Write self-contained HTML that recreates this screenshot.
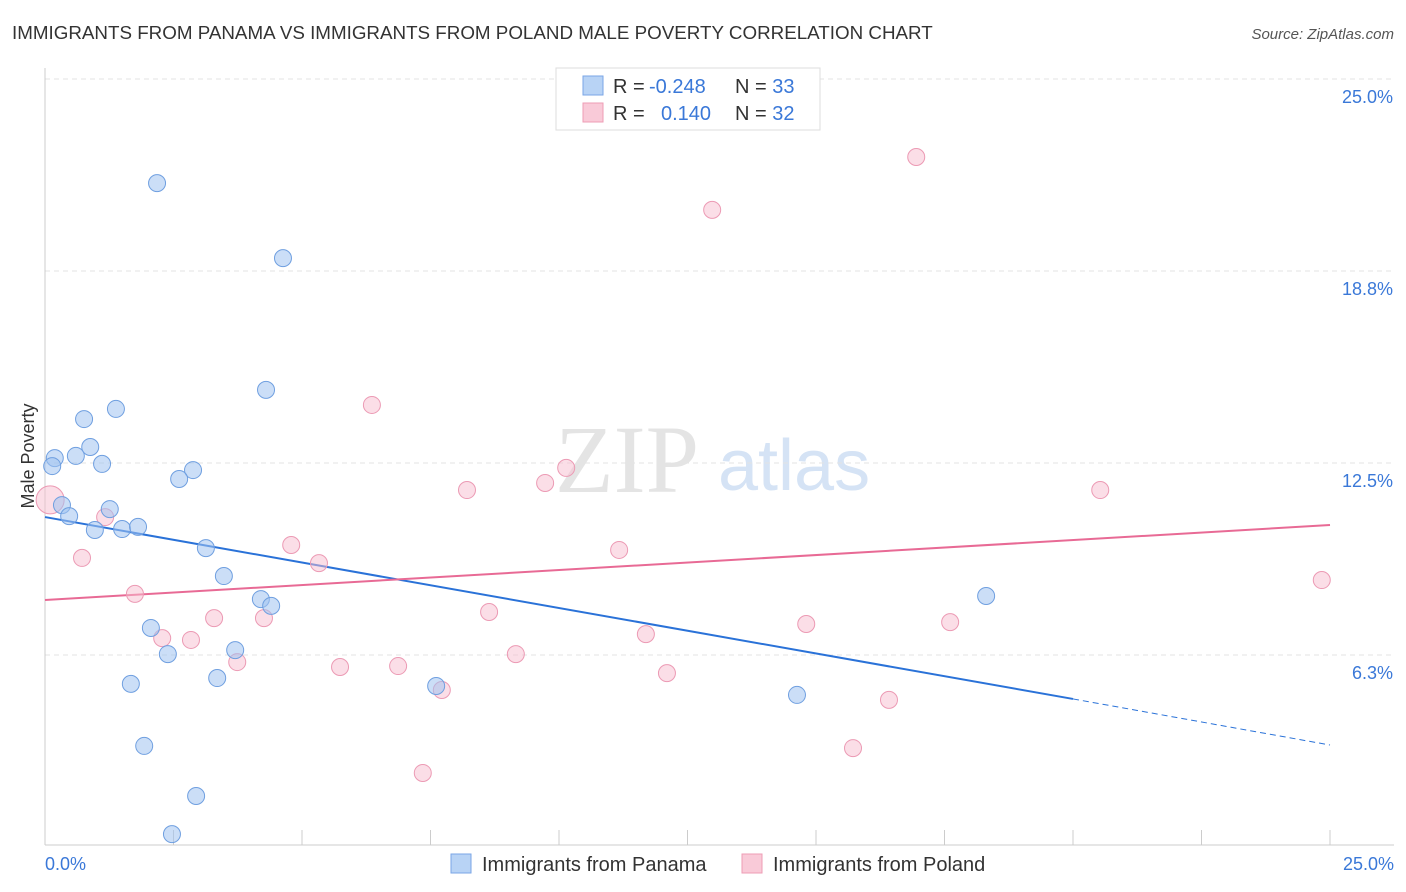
<!DOCTYPE html>
<html><head><meta charset="utf-8"><style>
body{margin:0;background:#fff;font-family:"Liberation Sans",sans-serif;}
svg{display:block}
</style></head><body>
<svg id="chart" width="1406" height="892" xmlns="http://www.w3.org/2000/svg">
<text x="12" y="39" font-size="18.8" fill="#333">IMMIGRANTS FROM PANAMA VS IMMIGRANTS FROM POLAND MALE POVERTY CORRELATION CHART</text>
<text x="1394" y="39" font-size="15" fill="#555" font-style="italic" text-anchor="end">Source: ZipAtlas.com</text>
<g>
<text x="555" y="492" font-size="96" fill="#e4e4e4" font-family="Liberation Serif,serif">ZIP</text>
<text x="718" y="490" font-size="72" fill="#d5e3f5">atlas</text>
</g>
<text transform="translate(34,456) rotate(-90)" font-size="18" fill="#333" text-anchor="middle">Male Poverty</text>
<g id="grid"></g>
<line x1="45" y1="68" x2="45" y2="845" stroke="#ccc"/>
<line x1="45" y1="845" x2="1394" y2="845" stroke="#ccc"/>
<g id="xticks"></g>
<g id="lines"></g>
<g id="pts"></g>
<text x="45" y="870" font-size="18" fill="#3a78d8">0.0%</text>
<text x="1394" y="870" font-size="18" fill="#3a78d8" text-anchor="end">25.0%</text>
<g>
<rect x="556" y="68" width="264" height="62" fill="#fff" stroke="#ddd"/>
<rect x="583" y="76" width="20" height="19" fill="#b8d3f5" stroke="#7aa6e6"/>
<rect x="583" y="103" width="20" height="19" fill="#f9cad8" stroke="#ee9cb5"/>
<text x="613" y="93" font-size="20" fill="#333">R = <tspan x="649" fill="#3a78d8">-0.248</tspan><tspan x="735">N = </tspan><tspan fill="#3a78d8">33</tspan></text>
<text x="613" y="120" font-size="20" fill="#333">R = <tspan x="661" fill="#3a78d8">0.140</tspan><tspan x="735">N = </tspan><tspan fill="#3a78d8">32</tspan></text>
</g>
<g>
<rect x="451" y="854" width="20" height="19" fill="#b8d3f5" stroke="#7aa6e6"/>
<text x="482" y="871" font-size="20" fill="#333">Immigrants from Panama</text>
<rect x="742" y="854" width="20" height="19" fill="#f9cad8" stroke="#ee9cb5"/>
<text x="773" y="871" font-size="20" fill="#333">Immigrants from Poland</text>
</g>
</svg>
<script>
const yTicks=[6.25,12.5,18.75,25];
const yTickLabels=["6.3%","12.5%","18.8%","25.0%"];
const xTicks=[0,2.5,5,7.5,10,12.5,15,17.5,20,22.5,25];
const panamaX=[2.18,4.63,4.30,1.38,0.76,0.88,0.60,0.19,1.11,0.14,2.88,2.61,0.33,1.26,0.47,0.97,1.50,1.81,3.13,3.48,4.20,4.40,2.06,2.39,3.70,1.67,3.35,7.61,14.63,18.31,1.93,2.94,2.47];
const panamaY=[21.61,19.17,14.88,14.26,13.93,13.02,12.73,12.66,12.47,12.40,12.27,11.98,11.13,11.00,10.77,10.32,10.35,10.42,9.73,8.82,8.07,7.85,7.13,6.28,6.41,5.31,5.50,5.24,4.95,8.17,3.29,1.66,0.42];
const polandX=[0.10,0.72,1.17,1.75,2.28,2.84,3.29,4.26,3.74,4.79,5.33,5.74,6.36,6.87,7.35,7.72,8.21,8.64,9.16,9.73,10.14,11.17,11.69,12.10,12.98,14.81,15.72,16.42,16.95,17.61,20.53,24.84];
const polandY=[11.30,9.41,10.74,8.24,6.80,6.74,7.45,7.45,6.02,9.83,9.24,5.86,14.39,5.89,2.41,5.11,11.62,7.65,6.28,11.85,12.34,9.67,6.93,5.66,20.74,7.26,3.22,4.79,22.46,7.32,11.62,8.69];
const panamaTrend=[10.74,4.82,3.32]; // at x=0, 20, 25
const polandTrend=[8.04,10.48];     // at x=0, 25
const NS="http://www.w3.org/2000/svg";
const sx=v=>45+v*51.4, sy=v=>847-v*30.72;
function mk(tag,attrs,parent){const e=document.createElementNS(NS,tag);for(const k in attrs)e.setAttribute(k,attrs[k]);document.getElementById(parent).appendChild(e);return e;}
yTicks.forEach((t,i)=>{
 const l=mk('line',{x1:45,x2:1394,y1:sy(t),y2:sy(t),stroke:'#e3e3e3','stroke-dasharray':'5,4'},'grid');
 
 
 const tx=mk('text',{x:1393,y:sy(t)+24,'font-size':18,fill:'#3a78d8','text-anchor':'end'},'grid');
 tx.textContent=yTickLabels[i];
 
 
});
xTicks.forEach(t=>{
 const l=mk('line',{x1:sx(t),x2:sx(t),y1:830,y2:845,stroke:'#ccc'},'xticks');
 
 
});
let a=mk('line',{x1:sx(0),y1:sy(panamaTrend[0]),x2:sx(20),y2:sy(panamaTrend[1]),stroke:'#2a72d8','stroke-width':2},'lines');


a=mk('line',{x1:sx(20),y1:sy(panamaTrend[1]),x2:sx(25),y2:sy(panamaTrend[2]),stroke:'#2a72d8','stroke-width':1,'stroke-dasharray':'6,4'},'lines');


a=mk('line',{x1:sx(0),y1:sy(polandTrend[0]),x2:sx(25),y2:sy(polandTrend[1]),stroke:'#e86a95','stroke-width':2},'lines');


polandX.forEach((x,i)=>{
 const c=mk('circle',{cx:sx(x),cy:sy(polandY[i]),r:i===0?14:8.5,fill:'rgba(248,190,208,0.5)',stroke:'#ec9ab4','stroke-width':1},'pts');
 
 
});
panamaX.forEach((x,i)=>{
 const c=mk('circle',{cx:sx(x),cy:sy(panamaY[i]),r:8.5,fill:'rgba(160,195,240,0.55)',stroke:'#6f9fe0','stroke-width':1},'pts');
 
 
});
</script>
</body></html>
